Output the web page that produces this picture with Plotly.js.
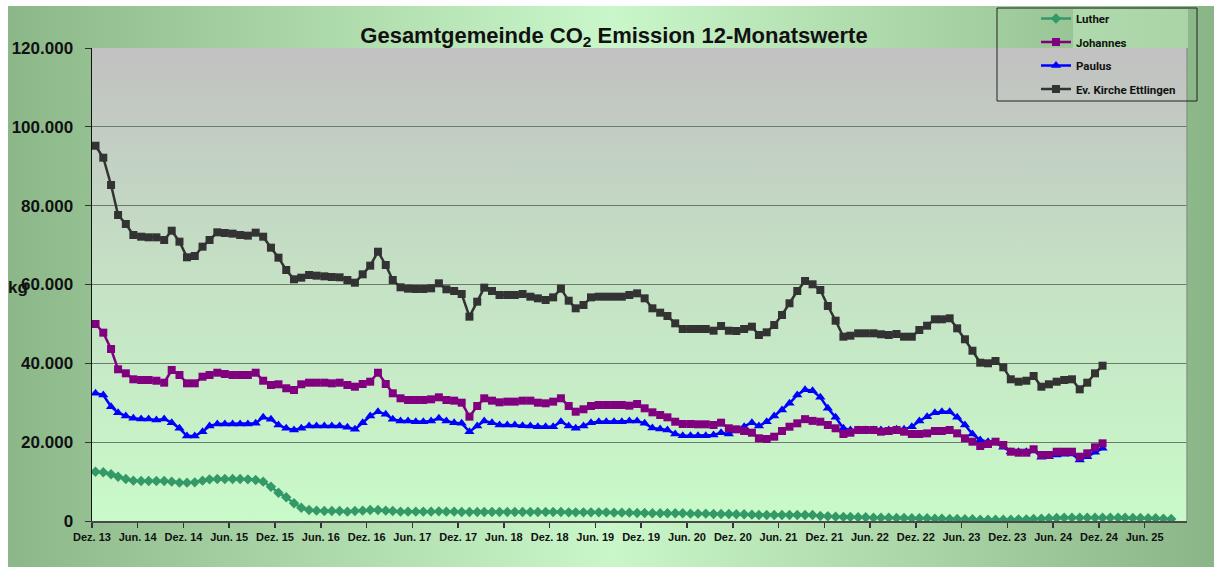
<!DOCTYPE html>
<html>
<head>
<meta charset="utf-8">
<script src="https://cdn.plot.ly/plotly-3.0.1.min.js"></script>
<style>html,body{margin:0;padding:0;background:#fff;}#chart{width:1214px;height:567px;}</style>
</head>
<body>
<div id="chart"></div>
<script>
// ---- data (kg CO2, rolling 12-month values, monthly from Dez. 2013) ----
const startYear = 2013, startMonth = 12;

const luther = [
 12510, 12350, 11850, 11240, 10660, 10240, 10150, 10150, 10150, 10150,
 9980, 9730, 9730, 9810, 10240, 10570, 10660, 10660, 10660, 10660,
 10570, 10400, 9980, 8700, 7180, 6010, 4490, 3380, 2790, 2620,
 2540, 2540, 2540, 2370, 2540, 2620, 2790, 2790, 2620, 2540,
 2370, 2370, 2370, 2370, 2370, 2450, 2370, 2370, 2290, 2290,
 2290, 2290, 2290, 2290, 2290, 2290, 2290, 2290, 2290, 2290,
 2290, 2290, 2200, 2200, 2200, 2200, 2200, 2200, 2120, 2120,
 2120, 2030, 2030, 1950, 1950, 1950, 1950, 1950, 1870, 1870,
 1870, 1780, 1780, 1780, 1700, 1700, 1610, 1520, 1520, 1520,
 1520, 1520, 1520, 1520, 1520, 1270, 1190, 1100, 1020, 1020,
 940, 940, 850, 850, 850, 770, 770, 680, 680, 680,
 590, 590, 510, 510, 430, 430, 340, 340, 340, 340,
 340, 420, 420, 510, 590, 680, 760, 850, 850, 850,
 850, 850, 850, 850, 850, 850, 760, 760, 680, 680,
 600, 500
];

const johannes = [
 49980, 47780, 43640, 38490, 37470, 35950, 35770, 35770, 35590, 35090,
 38310, 37040, 34930, 34930, 36610, 37040, 37620, 37290, 37040, 37040,
 37040, 37620, 35590, 34500, 34680, 33670, 33230, 34680, 35090, 35090,
 35090, 34930, 35090, 34500, 34070, 34760, 35340, 37620, 34760, 32400,
 31130, 30700, 30700, 30700, 30870, 31380, 30700, 30530, 30020, 26470,
 29180, 31130, 30530, 30110, 30280, 30280, 30530, 30530, 30020, 29860,
 30280, 31130, 29180, 27730, 28340, 29180, 29430, 29430, 29430, 29430,
 29260, 29680, 28590, 27570, 26890, 26300, 25190, 24610, 24610, 24530,
 24530, 24360, 24940, 23520, 23260, 22830, 22400, 20980, 20800, 21390,
 22830, 23920, 24780, 25840, 25400, 25190, 24360, 23520, 22070, 22400,
 23090, 23090, 23090, 22660, 22830, 23090, 22660, 22070, 22070, 22240,
 22830, 22830, 23090, 22240, 20980, 20120, 19030, 19540, 20120, 19280,
 17580, 17330, 17330, 18190, 16740, 16740, 17580, 17580, 17580, 16310,
 17170, 18700, 19710
];

const paulus = [
 32400, 31970, 29000, 27480, 26640, 26050, 25880, 25880, 25620, 25880,
 24940, 23520, 21560, 21560, 22660, 24100, 24610, 24610, 24610, 24610,
 24610, 24780, 26300, 25800, 24360, 23520, 23090, 23520, 24100, 24100,
 24100, 24100, 24100, 23770, 23260, 24940, 26640, 27730, 27070, 25800,
 25370, 25370, 25190, 25190, 25370, 26050, 25370, 24940, 24780, 22660,
 24100, 25370, 24940, 24360, 24360, 24360, 24190, 24100, 23920, 23920,
 23920, 25190, 24100, 23520, 24100, 24940, 25190, 25190, 25190, 25190,
 25370, 25370, 24780, 23600, 23340, 23090, 22070, 21640, 21640, 21640,
 21640, 21820, 22400, 22070, 23090, 23920, 24940, 24100, 25190, 26640,
 28160, 29860, 31970, 33320, 33060, 31380, 28590, 26300, 23520, 23090,
 23090, 23090, 23090, 23090, 23090, 23260, 23260, 23920, 25370, 26470,
 27480, 27730, 27730, 26300, 24360, 22070, 20550, 20120, 19870, 18700,
 17580, 17580, 17580, 18010, 16160, 16310, 16740, 16910, 17000, 15480,
 16310, 17430, 18440
];

const ettlingen = [
 95200, 92170, 85240, 77630, 75350, 72560, 72130, 71970, 71970, 71290,
 73650, 70860, 66900, 67230, 69600, 71290, 73240, 73070, 72900, 72560,
 72390, 73150, 72130, 69340, 66810, 63680, 61320, 61730, 62410, 62240,
 62070, 61900, 61820, 61140, 60460, 62580, 64780, 68320, 64950, 61140,
 59290, 58940, 58860, 58860, 59030, 60300, 58780, 58350, 57590, 51840,
 55640, 59200, 58350, 57340, 57340, 57340, 57590, 56910, 56490, 56070,
 56740, 58940, 55890, 53960, 54800, 56740, 56910, 56910, 56910, 56910,
 57340, 57760, 56490, 53960, 52850, 52010, 50150, 48710, 48710, 48710,
 48710, 48280, 49470, 48280, 48200, 48710, 49300, 47190, 47870, 49730,
 52260, 55230, 58350, 60890, 60050, 58600, 54550, 50820, 46760, 47010,
 47620, 47620, 47620, 47370, 47190, 47440, 46760, 46760, 48460, 49550,
 51170, 51170, 51420, 48880, 46100, 43200, 40160, 40010, 40590, 38990,
 35950, 35340, 35590, 36790, 34070, 34680, 35340, 35770, 35950, 33410,
 35090, 37470, 39400
];

const tickLabels = ["Dez. 13","Jun. 14","Dez. 14","Jun. 15","Dez. 15","Jun. 16","Dez. 16","Jun. 17",
 "Dez. 17","Jun. 18","Dez. 18","Jun. 19","Dez. 19","Jun. 20","Dez. 20","Jun. 21",
 "Dez. 21","Jun. 22","Dez. 22","Jun. 23","Dez. 23","Jun. 24","Dez. 24","Jun. 25"];

const seriesNames = ["Luther","Johannes","Paulus","Ev. Kirche Ettlingen"];

// ---- helpers ----
function monthDate(i, day){
  const m0 = startMonth - 1 + i;
  const y = startYear + Math.floor(m0/12);
  const m = (m0 % 12) + 1;
  return y + "-" + String(m).padStart(2,"0") + "-" + day;
}
function xs(arr){ return arr.map((_, i) => monthDate(i, "15")); }
const tickVals = tickLabels.map((_, k) => monthDate(k*6, "01"));

function svgURI(svg){ return "data:image/svg+xml;charset=utf-8," + encodeURIComponent(svg); }
const outerBg = svgURI("<svg xmlns='http://www.w3.org/2000/svg' width='200' height='100' viewBox='0 0 200 100' preserveAspectRatio='none'><defs><linearGradient id='g' x1='0' y1='0' x2='1' y2='0'><stop offset='0' stop-color='#8cb889'/><stop offset='0.5' stop-color='#caf7c9'/><stop offset='1' stop-color='#8ab587'/></linearGradient></defs><rect width='200' height='100' fill='url(#g)'/></svg>");
const plotBg = svgURI("<svg xmlns='http://www.w3.org/2000/svg' width='100' height='200' viewBox='0 0 100 200' preserveAspectRatio='none'><defs><linearGradient id='p' x1='0' y1='0' x2='0' y2='1'><stop offset='0' stop-color='#c1c1c1'/><stop offset='0.5' stop-color='#c5e2c5'/><stop offset='1' stop-color='#c9fac9'/></linearGradient></defs><rect width='100' height='200' fill='url(#p)'/></svg>");

// pixel -> paper helpers (plot area: x 92..1187, y 48..521)
const PL = 92, PR = 1187, PT = 48, PB = 521;
const px = x => (x - PL) / (PR - PL);
const py = y => (PB - y) / (PB - PT);

const base = {type: "scatter", mode: "lines+markers", hoverinfo: "x+y+name"};
const traces = [
  Object.assign({}, base, {name: seriesNames[0], legendgroup: "g1", x: xs(luther), y: luther, legendrank: 1,
    line: {color: "#339966", width: 2.5}, marker: {symbol: "diamond", size: 8, color: "#339966"}}),
  Object.assign({}, base, {name: seriesNames[2], legendgroup: "g3", x: xs(paulus), y: paulus, legendrank: 3,
    line: {color: "#0000ff", width: 2.5}, marker: {symbol: "triangle-up", size: 9, color: "#0000ff"}}),
  Object.assign({}, base, {name: seriesNames[1], legendgroup: "g2", x: xs(johannes), y: johannes, legendrank: 2,
    line: {color: "#800080", width: 2.5}, marker: {symbol: "square", size: 8, color: "#800080"}}),
  Object.assign({}, base, {name: seriesNames[3], legendgroup: "g4", x: xs(ettlingen), y: ettlingen, legendrank: 4,
    line: {color: "#333333", width: 2.5}, marker: {symbol: "square", size: 8, color: "#333333"}})
];

const layout = {
  width: 1214, height: 567,
  margin: {l: PL, r: 1214 - PR, t: PT, b: 567 - PB, pad: 0, autoexpand: false},
  paper_bgcolor: "#ffffff",
  plot_bgcolor: "rgba(0,0,0,0)",
  separators: ",.",
  font: {family: "Arial, 'Liberation Sans', sans-serif", color: "#111"},
  title: {
    text: "Gesamtgemeinde CO<sub>2</sub> Emission 12-Monatswerte",
    font: {family: "Arial, 'Liberation Sans', sans-serif", size: 22, weight: "bold", color: "#111"},
    xref: "container", x: 614/1214, xanchor: "center",
    yref: "container", y: 1 - 35/567, yanchor: "middle"
  },
  xaxis: {
    type: "date",
    range: ["2013-12-01", "2025-11-17"],
    tickvals: tickVals, ticktext: tickLabels,
    ticks: "outside", ticklen: 5, tickwidth: 1.5, tickcolor: "#333",
    showgrid: false, zeroline: false,
    showline: true, linecolor: "#4a4a4a", linewidth: 2,
    tickfont: {family: "Arial, 'Liberation Sans', sans-serif", size: 11, weight: "bold", color: "#111"},
    fixedrange: true
  },
  yaxis: {
    range: [0, 120000], dtick: 20000, tick0: 0, tickformat: ",d",
    ticks: "outside", ticklen: 6, tickwidth: 1, tickcolor: "#333",
    showgrid: true, gridcolor: "#6b7b6b", gridwidth: 1.2,
    zeroline: false,
    showline: true, linecolor: "#111", linewidth: 1.5,
    tickfont: {family: "Arial, 'Liberation Sans', sans-serif", size: 17, weight: "bold", color: "#111"},
    ticklabelstandoff: 8,
    fixedrange: true
  },
  showlegend: true,
  legend: {
    x: px(1036), xanchor: "left", y: py(4), yanchor: "top",
    bgcolor: "rgba(0,0,0,0)", borderwidth: 0,
    traceorder: "grouped", tracegroupgap: 4.5,
    font: {family: "'Liberation Sans Narrow', 'Arial Narrow', Roboto, sans-serif", size: 11.5, weight: "bold", color: "#111"},
    itemclick: false, itemdoubleclick: false
  },
  images: [
    {source: outerBg, xref: "paper", yref: "paper", x: px(8), y: py(6), sizex: px(1214) - px(8), sizey: py(6) - py(567),
     xanchor: "left", yanchor: "top", sizing: "stretch", layer: "below"},
    {source: plotBg, xref: "paper", yref: "paper", x: 0, y: 1, sizex: 1, sizey: 1,
     xanchor: "left", yanchor: "top", sizing: "stretch", layer: "below"}
  ],
  shapes: [
    {type: "rect", xref: "paper", yref: "paper", x0: px(1073), x1: px(1188), y0: py(48), y1: py(9),
     fillcolor: "rgba(200,240,195,0.5)", line: {width: 0}, layer: "below"},
    {type: "line", xref: "paper", yref: "paper", x0: 1, x1: 1, y0: 0, y1: 1,
     line: {color: "#8a9a8a", width: 1.5}},
    {type: "rect", xref: "paper", yref: "paper", x0: px(997), x1: px(1197), y0: py(101), y1: py(8),
     line: {color: "#222", width: 1}, fillcolor: "rgba(0,0,0,0)"}
  ],
  annotations: [
    {text: "kg", xref: "paper", yref: "paper", x: px(17.5), y: py(287), xanchor: "center", yanchor: "middle",
     showarrow: false, font: {family: "Arial, 'Liberation Sans', sans-serif", size: 17, weight: "bold", color: "#111"}}
  ]
};

Plotly.newPlot("chart", traces, layout, {displayModeBar: false, staticPlot: true});
</script>
</body>
</html>
